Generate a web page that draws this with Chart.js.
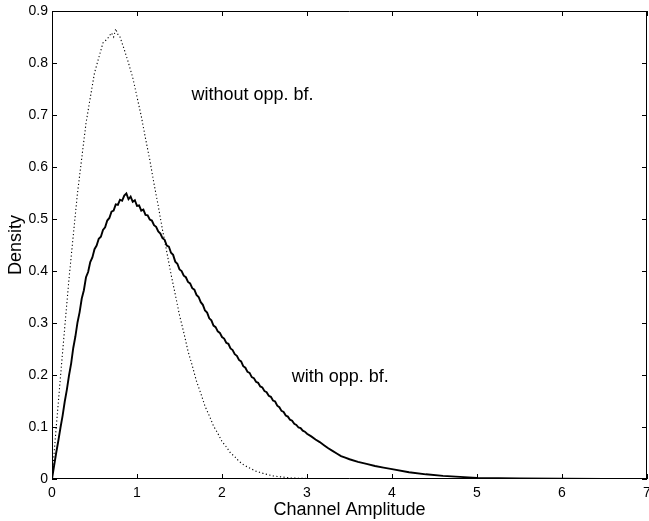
<!DOCTYPE html>
<html>
<head>
<meta charset="utf-8">
<script src="https://cdn.jsdelivr.net/npm/chart.js@4/dist/chart.umd.min.js"></script>
<style>
html,body{margin:0;padding:0;background:#fff;}
#wrap{width:649px;height:521px;}
</style>
</head>
<body>
<div id="wrap"><canvas id="c" width="649" height="521"></canvas></div>
<script>
// Series: "with opp. bf." (solid)
const solidX = [0,0.025,0.05,0.075,0.1,0.125,0.15,0.175,0.2,0.225,0.25,0.275,0.3,0.325,0.35,0.375,0.4,0.425,0.45,0.475,
0.5,0.525,0.55,0.575,0.6,0.625,0.65,0.675,0.7,0.725,0.75,0.775,0.8,0.825,0.85,0.875,0.9,0.925,0.95,0.975,
1.0,1.025,1.05,1.075,1.1,1.125,1.15,1.175,1.2,1.225,1.25,1.275,1.3,1.325,1.35,1.375,1.4,1.425,1.45,1.475,
1.5,1.525,1.55,1.575,1.6,1.625,1.65,1.675,1.7,1.725,1.75,1.775,1.8,1.825,1.85,1.875,1.9,1.925,1.95,1.975,
2.0,2.025,2.05,2.075,2.1,2.125,2.15,2.175,2.2,2.225,2.25,2.275,2.3,2.325,2.35,2.375,2.4,2.425,2.45,2.475,
2.5,2.525,2.55,2.575,2.6,2.625,2.65,2.675,2.7,2.725,2.75,2.775,2.8,2.825,2.85,2.875,2.9,2.925,2.95,2.975,
3.0,3.05,3.1,3.15,3.2,3.25,3.3,3.35,3.4,3.45,3.5,3.6,3.7,3.8,3.9,4.0,4.2,4.4,4.6,4.8,5.0,5.5,6.0,6.5,7.0];
const solidY = [0,0.026,0.051,0.074,0.099,0.122,0.149,0.172,0.199,0.222,0.252,0.274,0.301,0.321,0.347,0.363,0.388,0.398,0.417,0.426,
0.442,0.449,0.462,0.466,0.479,0.484,0.497,0.502,0.514,0.516,0.528,0.527,0.537,0.535,0.545,0.549,0.538,0.543,0.533,0.536,
0.525,0.526,0.516,0.518,0.508,0.507,0.499,0.497,0.488,0.485,0.476,0.472,0.463,0.460,0.449,0.447,0.435,0.431,0.418,0.414,
0.403,0.400,0.391,0.388,0.379,0.376,0.367,0.364,0.354,0.350,0.340,0.335,0.324,0.320,0.309,0.305,0.295,0.292,0.284,0.281,
0.273,0.270,0.262,0.260,0.251,0.248,0.240,0.237,0.229,0.226,0.217,0.214,0.206,0.204,0.196,0.194,0.187,0.185,0.178,0.176,
0.169,0.167,0.160,0.158,0.151,0.149,0.141,0.138,0.131,0.129,0.122,0.120,0.114,0.112,0.106,0.104,0.099,0.098,0.093,0.091,
0.087,0.082,0.076,0.071,0.065,0.059,0.054,0.049,0.044,0.041,0.038,0.033,0.029,0.025,0.022,0.019,0.013,0.009,0.006,0.004,0.002,0.001,0.0005,0.0002,0];

// Series: "without opp. bf." (dotted)
const dotX = [0,0.05,0.1,0.15,0.2,0.25,0.3,0.35,0.4,0.45,0.5,0.55,0.6,0.65,0.7,0.725,0.75,0.775,0.8,0.85,0.9,0.95,
1.0,1.05,1.1,1.15,1.2,1.25,1.3,1.35,1.4,1.45,1.5,1.55,1.6,1.65,1.7,1.75,1.8,1.85,1.9,1.95,
2.0,2.05,2.1,2.15,2.2,2.25,2.3,2.4,2.5,2.6,2.7,2.8,3.0,3.5,7.0];
const dotY = [0,0.100,0.197,0.292,0.385,0.468,0.550,0.617,0.684,0.733,0.781,0.810,0.839,0.846,0.858,0.850,0.866,0.855,0.850,0.826,0.800,0.772,
0.735,0.698,0.655,0.614,0.568,0.525,0.479,0.437,0.394,0.355,0.315,0.282,0.246,0.218,0.188,0.165,0.140,0.122,0.102,0.088,
0.072,0.062,0.050,0.043,0.034,0.028,0.023,0.015,0.010,0.006,0.004,0.002,0.001,0,0];

const xTicks = [0,1,2,3,4,5,6,7];
const yTicks = [0,0.1,0.2,0.3,0.4,0.5,0.6,0.7,0.8,0.9];
const xTitle = 'Channel Amplitude';
const yTitle = 'Density';
const labelWithout = 'without opp. bf.';
const labelWith = 'with opp. bf.';

const FONT = "'Liberation Sans', Arial, Helvetica, sans-serif";

function pairs(xs, ys){ return xs.map((x,i)=>({x:x, y:ys[i]})); }

const framePlugin = {
  id: 'frame',
  afterDatasetsDraw(chart){
    const {ctx, chartArea:a, scales:{x, y}} = chart;
    ctx.save();
    ctx.strokeStyle = '#000';
    ctx.lineWidth = 1;
    ctx.beginPath();
    ctx.rect(Math.round(a.left)+0.5, Math.round(a.top)+0.5, Math.round(a.right-a.left)-1, Math.round(a.bottom-a.top)-1);
    ctx.stroke();
    const L = 5;
    ctx.beginPath();
    xTicks.forEach(v=>{
      const px = Math.round(x.getPixelForValue(v))+0.5;
      ctx.moveTo(px, a.bottom); ctx.lineTo(px, a.bottom-L);
      ctx.moveTo(px, a.top); ctx.lineTo(px, a.top+L);
    });
    yTicks.forEach(v=>{
      const py = Math.round(y.getPixelForValue(v))+0.5;
      ctx.moveTo(a.left, py); ctx.lineTo(a.left+L, py);
      ctx.moveTo(a.right, py); ctx.lineTo(a.right-L, py);
    });
    ctx.stroke();
    ctx.fillStyle = '#000';
    ctx.font = '18px ' + FONT;
    ctx.textBaseline = 'middle';
    ctx.textAlign = 'left';
    ctx.fillText(labelWithout, x.getPixelForValue(1.64), y.getPixelForValue(0.738));
    ctx.fillText(labelWith, x.getPixelForValue(2.82), y.getPixelForValue(0.196));
    ctx.restore();
  }
};

new Chart(document.getElementById('c'), {
  type: 'line',
  data: {
    datasets: [
      { label: labelWithout, data: pairs(dotX, dotY), borderColor: '#000', borderWidth: 1.1,
        borderDash: [1.2, 2.4], pointRadius: 0, tension: 0, fill: false },
      { label: labelWith, data: pairs(solidX, solidY), borderColor: '#000', borderWidth: 1.9,
        pointRadius: 0, tension: 0, fill: false }
    ]
  },
  options: {
    responsive: false,
    animation: false,
    devicePixelRatio: 1,
    layout: { padding: { left: 0, right: 2, top: 11, bottom: 0 } },
    plugins: { legend: { display: false }, tooltip: { enabled: false } },
    scales: {
      x: {
        type: 'linear', min: 0, max: 7,
        afterBuildTicks: s => { s.ticks = xTicks.map(v=>({value:v})); },
        afterFit: s => { s.height = 42; s.paddingLeft = 0; s.paddingRight = 0; },
        grid: { display: false, drawTicks: false },
        border: { display: false },
        ticks: { color: '#000', font: { family: FONT, size: 14 }, padding: 6, maxRotation: 0, autoSkip: false },
        title: { display: true, text: xTitle, color: '#000', font: { family: FONT, size: 18 }, padding: { top: 0, bottom: 0 } }
      },
      y: {
        type: 'linear', min: 0, max: 0.9,
        afterBuildTicks: s => { s.ticks = yTicks.map(v=>({value:v})); },
        afterFit: s => { s.width = 52; s.paddingTop = 0; s.paddingBottom = 0; },
        grid: { display: false, drawTicks: false },
        border: { display: false },
        ticks: { color: '#000', font: { family: FONT, size: 14 }, padding: 4, autoSkip: false,
                 callback: v => String(Math.round(v*10)/10) },
        title: { display: true, text: yTitle, color: '#000', font: { family: FONT, size: 18 }, padding: { top: 5, bottom: 0 } }
      }
    }
  },
  plugins: [framePlugin]
});
</script>
</body>
</html>
